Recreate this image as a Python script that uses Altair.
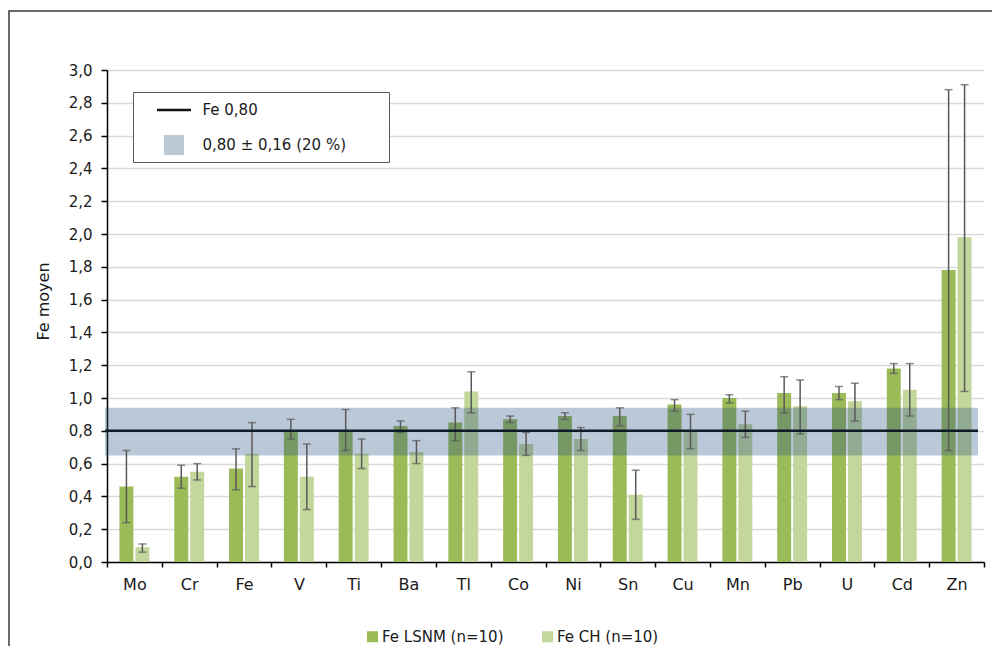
import altair as alt
import pandas as pd

elements = ["Mo", "Cr", "Fe", "V", "Ti", "Ba", "Tl", "Co", "Ni", "Sn", "Cu", "Mn", "Pb", "U", "Cd", "Zn"]
series = ["Fe LSNM (n=10)", "Fe CH (n=10)"]

lsnm_mean = [0.46, 0.52, 0.57, 0.80, 0.80, 0.83, 0.85, 0.87, 0.89, 0.89, 0.96, 1.00, 1.03, 1.03, 1.18, 1.78]
lsnm_low = [0.24, 0.45, 0.44, 0.75, 0.68, 0.79, 0.74, 0.85, 0.87, 0.83, 0.92, 0.97, 0.91, 0.99, 1.15, 0.68]
lsnm_high = [0.68, 0.59, 0.69, 0.87, 0.93, 0.86, 0.94, 0.89, 0.91, 0.94, 0.99, 1.02, 1.13, 1.07, 1.21, 2.88]

ch_mean = [0.09, 0.55, 0.66, 0.52, 0.66, 0.67, 1.04, 0.72, 0.75, 0.41, 0.80, 0.84, 0.95, 0.98, 1.05, 1.98]
ch_low = [0.06, 0.50, 0.46, 0.32, 0.57, 0.60, 0.91, 0.65, 0.68, 0.26, 0.69, 0.76, 0.78, 0.86, 0.89, 1.04]
ch_high = [0.11, 0.60, 0.85, 0.72, 0.75, 0.74, 1.16, 0.79, 0.82, 0.56, 0.90, 0.92, 1.11, 1.09, 1.21, 2.91]

ref_value = 0.80
band_low = 0.65
band_high = 0.94
ref_labels = ["Fe 0,80", "0,80 ± 0,16 (20 %)"]
y_ticks = [round(i * 0.2, 1) for i in range(16)]

colors = ["#9BBB59", "#C3D69B"]
FONT = "DejaVu Sans"
W, H = 877, 492

rows = []
for i, e in enumerate(elements):
    rows.append({"elem": e, "series": series[0], "mean": lsnm_mean[i], "low": lsnm_low[i], "high": lsnm_high[i]})
    rows.append({"elem": e, "series": series[1], "mean": ch_mean[i], "low": ch_low[i], "high": ch_high[i]})
df = pd.DataFrame(rows)

yscale = alt.Scale(domain=[0, 3], nice=False)
xenc = alt.X("elem:N", sort=elements, title=None,
             scale=alt.Scale(paddingInner=0, paddingOuter=0))
xoff = alt.XOffset("series:N", sort=series,
                   scale=alt.Scale(paddingInner=0.125, paddingOuter=0.78))

base = alt.Chart(df)

bars = base.mark_bar().encode(
    x=xenc,
    xOffset=xoff,
    y=alt.Y("mean:Q", scale=yscale, title="Fe moyen"),
    color=alt.Color("series:N", scale=alt.Scale(domain=series, range=colors),
                    legend=alt.Legend(orient="none", legendX=258, legendY=559,
                                      direction="horizontal", title=None,
                                      symbolType="square", symbolSize=121,
                                      symbolStrokeWidth=0, labelFontSize=15,
                                      labelOffset=2, columnPadding=36,
                                      labelColor="#1a1a1a", labelFont=FONT)),
)

err_rule = base.mark_rule(color="#595959", strokeWidth=1.5).encode(
    x=xenc, xOffset=xoff,
    y=alt.Y("low:Q", scale=yscale, title="Fe moyen"),
    y2="high:Q",
)
cap_low = base.mark_tick(color="#595959", thickness=1.5, size=8).encode(
    x=xenc, xOffset=xoff,
    y=alt.Y("low:Q", scale=yscale, title="Fe moyen"),
)
cap_high = base.mark_tick(color="#595959", thickness=1.5, size=8).encode(
    x=xenc, xOffset=xoff,
    y=alt.Y("high:Q", scale=yscale, title="Fe moyen"),
)

band_df = pd.DataFrame({"lo": [band_low], "hi": [band_high], "ref": [ref_value]})
band = alt.Chart(band_df).mark_rect(color="#1F497D", opacity=0.3).encode(
    y=alt.Y("lo:Q", scale=yscale, title="Fe moyen"),
    y2="hi:Q",
    x=alt.value(-2), x2=alt.value(W - 6),
)
line = alt.Chart(band_df).mark_rule(color="#0E1A26", strokeWidth=2.5).encode(
    y=alt.Y("ref:Q", scale=yscale, title="Fe moyen"),
    x=alt.value(-2), x2=alt.value(W - 6),
)

one = pd.DataFrame({"k": [0]})
frame = alt.Chart(one).mark_rect(fill="white", fillOpacity=0, stroke="#3a3a3a", strokeWidth=1.5).encode(
    x=alt.value(-98), x2=alt.value(W + 40), y=alt.value(-59), y2=alt.value(H + 200),
)
legend_box = alt.Chart(one).mark_rect(fill="white", stroke="#595959", strokeWidth=1).encode(
    x=alt.value(26.5), x2=alt.value(282.5), y=alt.value(22.5), y2=alt.value(92.5),
)

leg_props = dict(orient="none", legendX=55.5, legendY=28.5, title=None, symbolSize=400,
                 symbolStrokeWidth=2.5, symbolOpacity=1, labelFontSize=15, labelOffset=17,
                 rowPadding=11, padding=0, direction="vertical", labelColor="#1a1a1a",
                 labelFont=FONT)
ref_df = pd.DataFrame({"key": ref_labels})
ref_legend = alt.Chart(ref_df).mark_point(filled=True, opacity=1).encode(
    x=alt.value(-600), y=alt.value(-600),
    fill=alt.Fill("key:N", scale=alt.Scale(domain=ref_labels, range=["#111111", "#BCCAD6"]),
                  legend=alt.Legend(**leg_props)),
    stroke=alt.Stroke("key:N", scale=alt.Scale(domain=ref_labels, range=["#111111", "transparent"]),
                      legend=alt.Legend(**leg_props)),
    shape=alt.Shape("key:N", scale=alt.Scale(domain=ref_labels, range=["M-1.7,0H1.7", "square"]),
                    legend=alt.Legend(**leg_props)),
)

chart = alt.layer(
    frame, bars, band, err_rule, cap_low, cap_high, line, legend_box, ref_legend
).properties(
    width=W, height=H,
    autosize=alt.AutoSizeParams(type="none"),
    padding={"left": 99, "top": 62, "right": 8, "bottom": 84},
).configure(
    font=FONT,
).configure_view(
    stroke=None,
).configure_axisY(
    values=y_ticks,
    labelExpr="replace(format(datum.value, '.1f'), '.', ',')",
    labelFontSize=15, labelColor="#1a1a1a", labelPadding=9, labelFont=FONT,
    tickSize=6, tickColor="#000000", tickWidth=1.5,
    domainColor="#000000", domainWidth=1.5,
    gridColor="#D9D9D9", gridWidth=1.5,
    titleFontSize=16, titleFontWeight="normal", titleColor="#1a1a1a", titleFont=FONT,
    titleX=-64, titleY=231, titleAngle=270, titleAlign="center", titleBaseline="middle",
).configure_axisX(
    labelFontSize=16, labelColor="#1a1a1a", labelPadding=9, labelAngle=0, labelFont=FONT,
    tickBand="extent", tickSize=5, tickColor="#000000", tickWidth=1.5,
    domainColor="#000000", domainWidth=1.5, grid=False,
)

chart.save("out.html", embed_options={"renderer": "svg", "actions": False})
